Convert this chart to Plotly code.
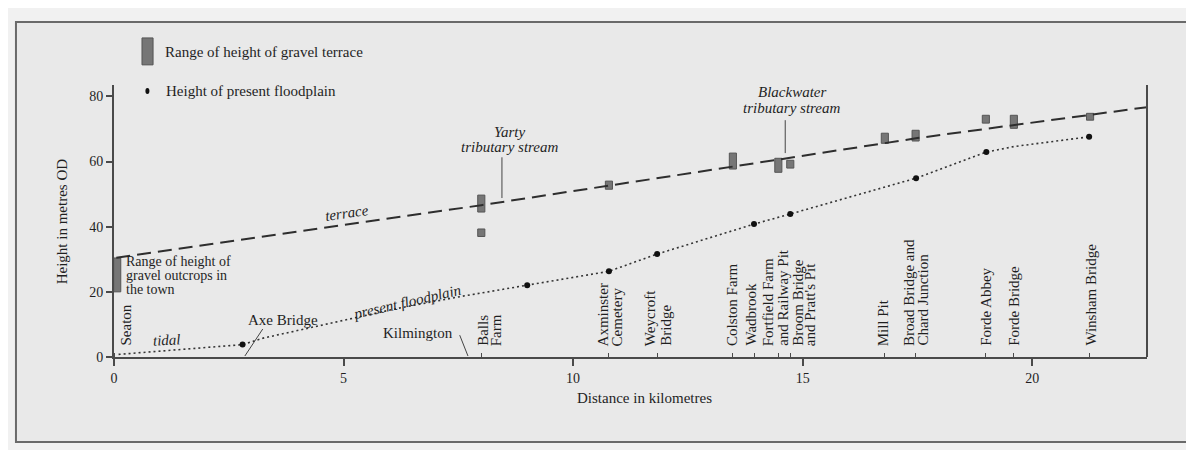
import plotly.graph_objects as go

# ---------------- data ----------------
# gravel terrace height ranges (km, bottom m, top m)
gravel_x = [0.07, 8.0, 8.0, 10.78, 13.48, 14.47, 14.73, 16.79, 17.46, 18.99, 19.6, 21.26]
gravel_bottom = [20.0, 44.5, 37.0, 51.5, 57.7, 56.7, 58.0, 65.6, 66.3, 71.8, 70.2, 72.7]
gravel_top = [30.4, 49.7, 39.3, 54.0, 62.6, 61.0, 60.4, 68.7, 69.6, 74.2, 74.2, 74.8]

# present floodplain points (dots)
flood_x = [2.8, 9.0, 10.78, 11.83, 13.94, 14.73, 17.47, 19.0, 21.24]
flood_y = [3.8, 22.0, 26.3, 31.6, 40.8, 43.9, 54.9, 62.9, 67.6]

# present floodplain profile (dotted line)
flood_line_x = [0.1, 2.8, 3.25, 4.7, 6.2, 7.6, 9.0, 10.78, 11.83, 13.94, 14.73, 17.47, 19.0, 19.6, 21.24]
flood_line_y = [0.8, 3.8, 5.8, 10.4, 15.0, 18.7, 22.0, 26.3, 31.6, 40.8, 43.9, 54.9, 62.9, 64.6, 67.6]

# terrace profile (dashed line)
terrace_x = [0.05, 8.0, 13.5, 17.5, 22.5]
terrace_y = [30.5, 46.6, 58.5, 67.2, 76.7]

# places along the valley (km) and their label lines
place_km = [0.0, 8.0, 10.78, 11.83, 13.48, 13.94, 14.47, 14.73, 16.79, 17.46, 18.99, 19.6, 21.25]
place_lines = [
    ["Seaton"],
    ["Balls", "Farm"],
    ["Axminster", "Cemetery"],
    ["Weycroft", "Bridge"],
    ["Colston Farm"],
    ["Wadbrook"],
    ["Fortfield Farm", "and Railway Pit"],
    ["Broom Bridge", "and Pratt's Pit"],
    ["Mill Pit"],
    ["Broad Bridge and", "Chard Junction"],
    ["Forde Abbey"],
    ["Forde Bridge"],
    ["Winsham Bridge"],
]

x_ticks = [0, 5, 10, 15, 20]
y_ticks = [0, 20, 40, 60, 80]

# leader lines for callouts: (x0, y0, x1, y1)
leaders = [
    (2.85, 0.3, 3.24, 8.6),     # Axe Bridge
    (7.71, 0.3, 7.53, 6.7),     # Kilmington
    (8.45, 48.8, 8.45, 61.3),   # Yarty
    (14.62, 62.6, 14.62, 72.7), # Blackwater
]

# ---------------- styling / layout ----------------
FONT = "Liberation Serif"
INK = "#1f1f1f"
AXC = "#4a4a4a"
X_RANGE = [0, 22.5]
Y_RANGE = [0, 83.5]

# per-line pixel shifts of the vertical place labels
place_shifts = [
    [11], [1, 15], [-6, 8], [-7, 8], [-1], [-4], [-10, 4], [7, 20],
    [-2], [-7, 7], [0], [0], [1],
]

fig = go.Figure()

fig.add_trace(go.Bar(
    x=gravel_x,
    y=[t - b for t, b in zip(gravel_top, gravel_bottom)],
    base=gravel_bottom,
    width=0.155,
    marker=dict(color="#767676", line=dict(color="#555555", width=1)),
    showlegend=False, hoverinfo="skip",
))

fig.add_trace(go.Scatter(
    x=terrace_x, y=terrace_y, mode="lines",
    line=dict(color="#2e2e2e", width=2, dash="14px,7px"),
    showlegend=False, hoverinfo="skip",
))

fig.add_trace(go.Scatter(
    x=flood_line_x, y=flood_line_y, mode="lines",
    line=dict(color="#333333", width=1.6, dash="2px,3px"),
    showlegend=False, hoverinfo="skip",
))

fig.add_trace(go.Scatter(
    x=flood_x, y=flood_y, mode="markers",
    marker=dict(color="#111111", size=6),
    showlegend=False, hoverinfo="skip",
))

lx, ly = [], []
for x0, y0, x1, y1 in leaders:
    lx += [x0, x1, None]
    ly += [y0, y1, None]
fig.add_trace(go.Scatter(
    x=lx, y=ly, mode="lines",
    line=dict(color="#444444", width=1),
    showlegend=False, hoverinfo="skip",
))

annotations = []

def txt(text, x, y, size=15, italic=False, angle=0, xanchor="center", yanchor="middle",
        xref="x", yref="y", xshift=0, yshift=0, color=INK):
    if italic:
        text = "<i>" + text + "</i>"
    annotations.append(dict(
        text=text, x=x, y=y, xref=xref, yref=yref, showarrow=False,
        textangle=angle, xanchor=xanchor, yanchor=yanchor,
        xshift=xshift, yshift=yshift,
        font=dict(family=FONT, size=size, color=color),
    ))

# vertical place labels
for km, lines, shifts in zip(place_km, place_lines, place_shifts):
    for line, sh in zip(lines, shifts):
        txt(line, km, 0, size=15, angle=-90, xanchor="center", yanchor="bottom",
            xshift=sh, yshift=9)

# callout text
txt("Axe Bridge", 3.68, 11.3)
txt("Kilmington", 6.62, 7.4)
txt("tidal", 1.15, 5.2, italic=True, angle=-3)
txt("terrace", 5.07, 44.2, italic=True, angle=-8)
txt("present floodplain", 6.38, 16.9, italic=True, angle=-13)
txt("Yarty", 8.62, 69.0, italic=True)
txt("tributary stream", 8.62, 64.4, italic=True)
txt("Blackwater", 14.76, 81.2, italic=True)
txt("tributary stream", 14.76, 76.3, italic=True)
for i, line in enumerate(["Range of height of", "gravel outcrops in", "the town"]):
    txt(line, 0.22, 29.2 - 4.3 * i, size=14, xanchor="left")

# axis titles
txt("Height in metres OD", -0.050, 0.5, size=15, angle=-90, xref="paper", yref="paper")
txt("Distance in kilometres", 0.514, -0.151, size=15, xref="paper", yref="paper")

# legend
txt("Range of height of gravel terrace", 0.0474, 1.121, size=15, xanchor="left",
    xref="paper", yref="paper")
txt("Height of present floodplain", 0.0484, 0.978, size=15, xanchor="left",
    xref="paper", yref="paper")

shapes = [
    # page frame
    dict(type="rect", xref="paper", yref="paper", x0=-0.0949, x1=1.0407,
         y0=-0.3125, y1=1.2316, line=dict(color="#6a6a6a", width=2),
         fillcolor="#e9e9e9", layer="below"),
    # right border of plot
    dict(type="line", xref="paper", yref="paper", x0=1, x1=1, y0=0, y1=1,
         line=dict(color=AXC, width=2)),
    # legend swatch bar
    dict(type="rect", xref="paper", yref="paper", x0=0.0271, x1=0.0378,
         y0=1.074, y1=1.173, line=dict(color="#555555", width=1), fillcolor="#767676"),
    # legend dot
    dict(type="circle", xref="paper", yref="paper", x0=0.0304, x1=0.0343,
         y0=0.967, y1=0.989, line=dict(color="#111111", width=0), fillcolor="#111111"),
]

# the page body has an 8px margin, so the figure is 8px smaller and margins compensate
fig.update_layout(
    width=1186, height=442,
    margin=dict(l=106, r=47, t=77, b=93),
    paper_bgcolor="#f1f1f1",
    plot_bgcolor="rgba(0,0,0,0)",
    barmode="overlay",
    showlegend=False,
    font=dict(family=FONT, color=INK),
    annotations=annotations,
    shapes=shapes,
    xaxis=dict(
        range=X_RANGE, showgrid=False, zeroline=False,
        showline=True, linecolor=AXC, linewidth=2,
        tickmode="array", tickvals=x_ticks, ticks="outside", ticklen=7,
        tickwidth=1.5, tickcolor=AXC,
        tickfont=dict(family=FONT, size=14, color=INK),
        minor=dict(tickmode="array", tickvals=place_km, ticks="inside",
                   ticklen=4, tickwidth=1.2, tickcolor=AXC, showgrid=False),
    ),
    yaxis=dict(
        range=Y_RANGE, showgrid=False, zeroline=False,
        showline=True, linecolor=AXC, linewidth=2,
        tickmode="array", tickvals=y_ticks, ticks="outside", ticklen=6,
        tickwidth=1.5, tickcolor=AXC,
        tickfont=dict(family=FONT, size=14, color=INK),
    ),
)

fig.write_html("out.html")
